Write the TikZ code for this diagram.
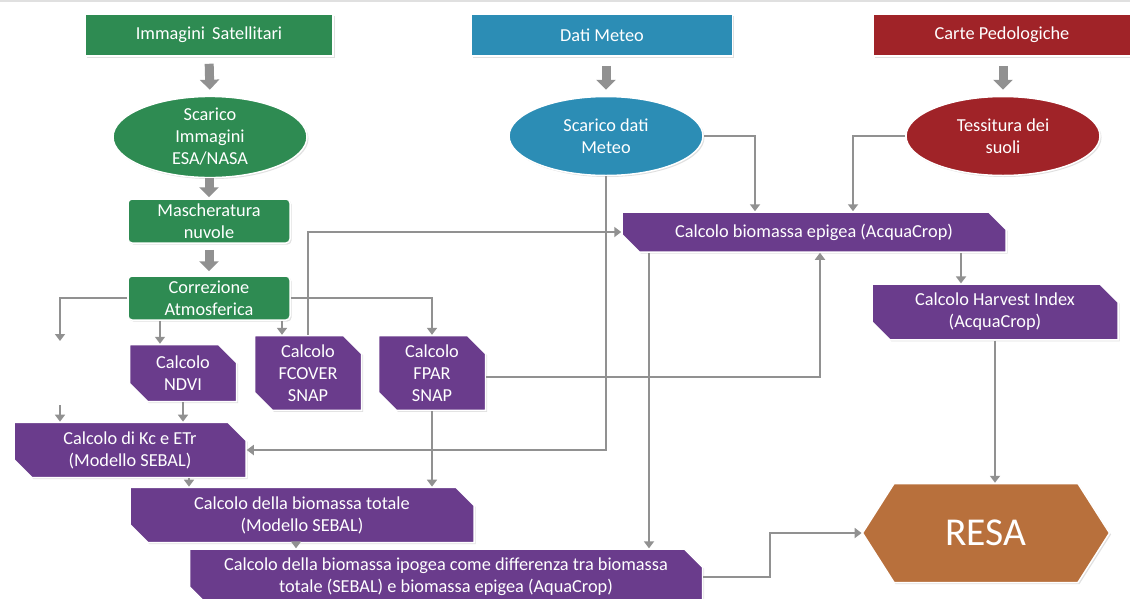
\documentclass[tikz,border=0pt]{standalone}
\usepackage{fontspec}
\setmainfont{Carlito}
\usetikzlibrary{arrows.meta,shapes.geometric,shapes.misc,shapes.symbols,shadows}
\definecolor{cgreen}{RGB}{46,139,82}
\definecolor{cblue}{RGB}{44,141,181}
\definecolor{cred}{RGB}{160,35,40}
\definecolor{cpurple}{RGB}{106,60,140}
\definecolor{cbrown}{RGB}{184,112,60}
\definecolor{cline}{RGB}{145,145,145}
\begin{document}
\begin{tikzpicture}[x=1pt,y=-1pt,
  base/.style={draw=white, line width=1.5pt, text=white, align=center, inner sep=0pt,
    font=\fontsize{18.3}{22}\selectfont,
    drop shadow={shadow xshift=1.5pt, shadow yshift=-1.5pt, fill=black!30, opacity=0.4}},
  topbox/.style={base, rectangle, minimum height=42pt},
  greenbox/.style={base, rectangle, rounded corners=4pt, fill=cgreen, minimum width=162pt, minimum height=44pt},
  oval/.style={base, ellipse, minimum width=194pt, minimum height=79pt},
  purplebox/.style={base, fill=cpurple, chamfered rectangle,
    chamfered rectangle corners={north east,south west},
    chamfered rectangle xsep=9pt, chamfered rectangle ysep=9pt},
  conn/.style={draw=cline, line width=2.2pt, -{Triangle[length=7pt,width=10pt]}},
  bigarrow/.style={draw=cline, line width=9pt, -{Triangle[length=10pt,width=19pt]}}
]
\useasboundingbox[fill=white] (0,0) rectangle (1130,598);
\draw[black!12, line width=2pt] (0,1) -- (1130,1);

% top sources
\node[topbox, fill=cgreen, minimum width=248pt] (sat) at (209,35) {Immagini\, Satellitari};
\node[topbox, fill=cblue, minimum width=261pt] (met) at (602,35) {Dati Meteo};
\node[topbox, fill=cred, minimum width=258pt] (ped) at (1002,35) {Carte Pedologiche};

% ellipses
\node[oval, fill=cgreen] (esa) at (210,137) {Scarico\\Immagini\\ESA/NASA};
\node[oval, fill=cblue] (sdm) at (606,136) {Scarico dati\\Meteo};
\node[oval, fill=cred] (tes) at (1003,136) {Tessitura dei\\suoli};

% green processing
\node[greenbox] (mas) at (209,221) {Mascheratura\\nuvole};
\node[greenbox] (cor) at (209,298) {Correzione\\Atmosferica};

% purple boxes
\node[purplebox, minimum width=107pt, minimum height=57pt] (ndvi) at (183,373) {Calcolo\\NDVI};
\node[purplebox, minimum width=107pt, minimum height=57pt] (fcov) at (308,373) {Calcolo\\FCOVER\\SNAP};
\node[purplebox, minimum width=107pt, minimum height=57pt] (fpar) at (432,373) {Calcolo\\FPAR\\SNAP};
\node[purplebox, minimum width=384pt, minimum height=40pt] (epi) at (814,232) {Calcolo biomassa epigea (AcquaCrop)};
\node[purplebox, minimum width=246pt, minimum height=40pt] (har) at (995,312) {Calcolo Harvest Index\\(AcquaCrop)};
\node[purplebox, minimum width=232pt, minimum height=40pt] (kc) at (130,450) {Calcolo di Kc e ETr\\(Modello SEBAL)};
\node[purplebox, minimum width=344pt, minimum height=41pt] (tot) at (302,515) {Calcolo della biomassa totale\\(Modello SEBAL)};
\node[purplebox, minimum width=513pt, minimum height=40pt] (ipo) at (446,577) {Calcolo della biomassa ipogea come differenza tra biomassa\\totale (SEBAL) e biomassa epigea (AquaCrop)};

% result
\node[base, fill=cbrown, signal, signal to=west and east, signal pointer angle=115,
  minimum width=247pt, minimum height=99pt, font=\fontsize{39.5}{42}\selectfont] (resa) at (986,533) {RESA};

% block arrows
\draw[bigarrow, shorten <=7pt, shorten >=6pt] (sat.south) -- (esa.north);
\draw[bigarrow, shorten <=9pt, shorten >=6pt] (met.south -| sdm.north) -- (sdm.north);
\draw[bigarrow, shorten <=9pt, shorten >=6pt] (ped.south -| tes.north) -- (tes.north);
\draw[bigarrow, shorten <=0pt, shorten >=1pt] (esa.south -| mas.north) -- (mas.north);
\draw[bigarrow, shorten <=6pt, shorten >=4pt] (mas.south) -- (cor.north);

% connector helper points
\coordinate (l1) at (60,341);
\coordinate (l2) at (60,405);
\coordinate (cn) at ([xshift=-49pt]cor.south);
\coordinate (cf) at ([xshift=73pt]cor.south);
\coordinate (e1) at ([xshift=-59pt]epi.north);
\coordinate (e2) at ([xshift=39pt]epi.north);
\coordinate (e3) at ([xshift=6pt]epi.south);
\coordinate (e4) at ([xshift=-165pt]epi.south);
\coordinate (e5) at ([xshift=147pt]epi.south);
\coordinate (k1) at ([xshift=59pt]kc.south);
\coordinate (t1) at ([xshift=-6pt]tot.south);
\coordinate (r1) at ([xshift=67pt]ipo.east);

% connectors
\draw[conn] (cor.west) -| (l1);
\draw[conn] (l2) -- (l2 |- kc.north);
\draw[conn] (cn) -- (cn |- ndvi.north);
\draw[conn] (cf) -- (cf |- fcov.north);
\draw[conn] (cor.east) -| (fpar.north);
\draw[conn] (fcov.north) |- (epi.west);
\draw[conn] (sdm.east) -| (e1);
\draw[conn] (tes.west) -| (e2);
\draw[conn] (sdm.south) |- (kc.east);
\draw[conn] ([yshift=-4pt]fpar.east) -| (e3);
\draw[conn] (e4) -- (e4 |- ipo.north);
\draw[conn] (e5) -- (e5 |- har.north);
\draw[conn] (har.south) -- (har.south |- resa.north);
\draw[conn] (ndvi.south) -- (ndvi.south |- kc.north);
\draw[conn] (fpar.south) -- (fpar.south |- tot.north);
\draw[conn] (k1) -- (k1 |- tot.north);
\draw[conn] (t1) -- (t1 |- ipo.north);
\draw[conn] (ipo.east) -- (r1) |- (resa.west);
\end{tikzpicture}
\end{document}
